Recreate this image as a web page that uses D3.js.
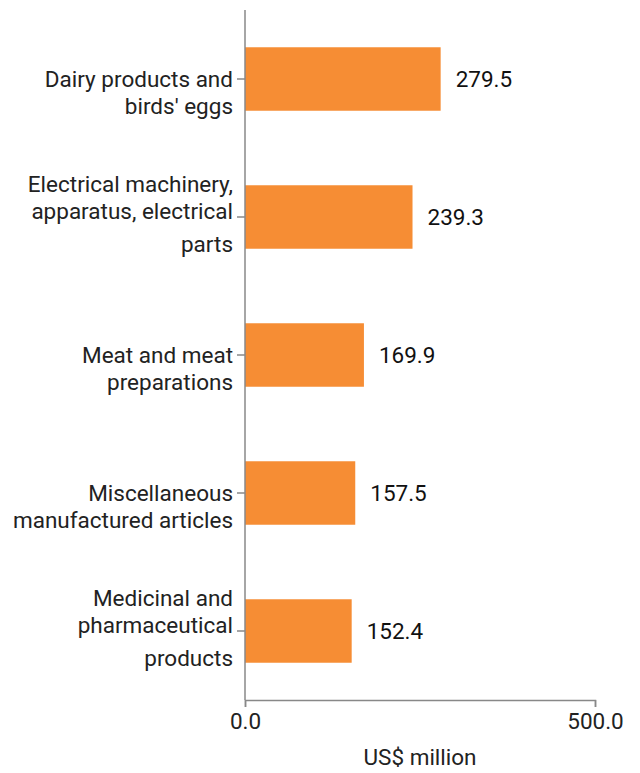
<!DOCTYPE html>
<html><head><meta charset="utf-8">
<script src="https://cdn.jsdelivr.net/npm/d3@7"></script>
<style>body{margin:0;background:#fff}svg{display:block;font-family:Roboto,"Noto Sans",sans-serif}</style>
</head><body>
<svg id="chart" width="640" height="773"></svg>
<script>
const categories = [
  ["Dairy products and", "birds' eggs"],
  ["Electrical machinery,", "apparatus, electrical", "parts"],
  ["Meat and meat", "preparations"],
  ["Miscellaneous", "manufactured articles"],
  ["Medicinal and", "pharmaceutical", "products"]
];
const values = [279.5, 239.3, 169.9, 157.5, 152.4];
const xTicks = [0, 500];
const xTitle = "US$ million";

(function () {
const FS = 22.5;
const svg = d3.select("#chart");
const mLeft = 245, mRight = 595, mTop = 10, mBottom = 700;
const keys = categories.map((c, i) => i);
const x = d3.scaleLinear().domain([0, 500]).range([mLeft, mRight]);
const y = d3.scaleBand().domain(keys).range([mTop, mBottom]).paddingInner(0.54).paddingOuter(0.27);

svg.selectAll("rect.bar").data(values).join("rect")
  .attr("class", "bar")
  .attr("x", x(0)).attr("y", (d, i) => y(i))
  .attr("width", d => x(d) - x(0)).attr("height", y.bandwidth())
  .attr("fill", "#F68D34");

svg.selectAll("text.val").data(values).join("text")
  .attr("class", "val")
  .attr("x", d => x(d) + 15).attr("y", (d, i) => y(i) + y.bandwidth() / 2)
  .attr("dy", "0.35em").attr("font-size", FS).attr("fill", "#111")
  .text(d => d.toFixed(1));

const yAxis = svg.append("g").attr("transform", `translate(${mLeft},0)`);
yAxis.append("line").attr("x1", 0).attr("x2", 0).attr("y1", mTop).attr("y2", mBottom).attr("stroke", "#888").attr("stroke-width", 1.5);
keys.forEach(i => {
  const cy = y(i) + y.bandwidth() / 2;
  yAxis.append("line").attr("x1", -8).attr("x2", 0).attr("y1", cy).attr("y2", cy).attr("stroke", "#888").attr("stroke-width", 1.5);
  const lines = categories[i];
  const offs = lines.length === 3 ? [-33, -6, 27] : [0, 27];
  const t = yAxis.append("text").attr("text-anchor", "end").attr("font-size", FS).attr("fill", "#222");
  lines.forEach((ln, j) => {
    t.append("tspan").attr("x", -12).attr("y", cy + offs[j]).attr("dy", "0.35em").text(ln);
  });
});

const xAxis = svg.append("g").attr("transform", `translate(0,${mBottom})`)
  .call(d3.axisBottom(x).tickValues(xTicks).tickSize(7).tickPadding(6).tickFormat(d3.format(".1f")));
xAxis.select(".domain").attr("stroke", "#888").attr("stroke-width", 1.5);
xAxis.selectAll(".tick line").attr("stroke", "#888").attr("stroke-width", 1.5);
xAxis.selectAll(".tick text").attr("font-size", FS).attr("fill", "#222").attr("font-family", "Roboto,sans-serif");

svg.append("text").attr("x", (mLeft + mRight) / 2).attr("y", 757).attr("dy", "0.35em")
  .attr("text-anchor", "middle").attr("font-size", FS).attr("fill", "#222").text(xTitle);
})();
</script>
</body></html>
